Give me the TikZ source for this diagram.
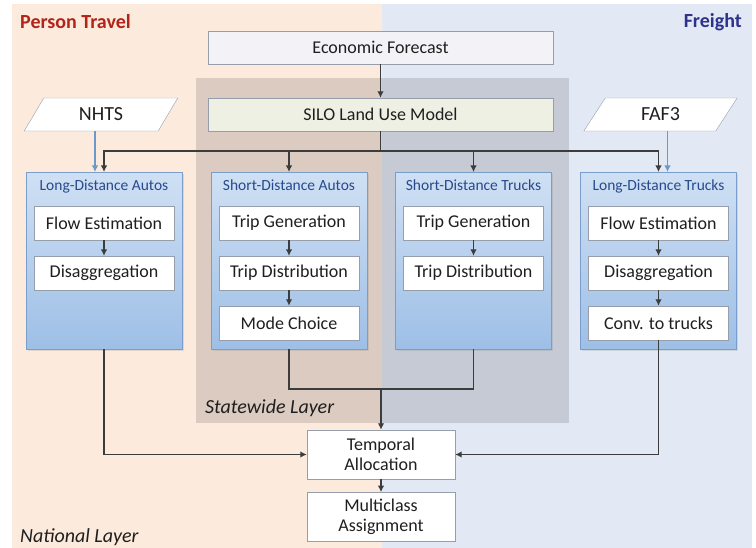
\documentclass[tikz,border=0pt]{standalone}
\usepackage{fontspec}
\setmainfont{Carlito}
\usetikzlibrary{positioning}
\usetikzlibrary{shapes.geometric}
\usetikzlibrary{arrows.meta}
\usetikzlibrary{shadows}

\definecolor{peach}{RGB}{252,234,221}
\definecolor{paleblue}{RGB}{227,233,244}
\definecolor{modtop}{RGB}{207,224,244}
\definecolor{modbot}{RGB}{158,191,230}
\definecolor{modline}{RGB}{122,158,204}
\definecolor{titleblue}{RGB}{40,74,140}
\definecolor{personred}{RGB}{178,36,26}
\definecolor{freightblue}{RGB}{46,50,140}
\definecolor{arrowgray}{RGB}{60,60,60}
\definecolor{inputblue}{RGB}{108,152,204}
\definecolor{boxline}{RGB}{150,158,172}
\definecolor{econfill}{RGB}{243,243,247}
\definecolor{silofill}{RGB}{237,240,226}

\tikzset{
  box/.style={draw=boxline, fill=white, minimum width=140pt, minimum height=34pt,
    inner sep=0pt, text=black!88, font=\fontsize{18}{20}\selectfont},
  module/.style={draw=modline, top color=modtop, bottom color=modbot,
    minimum width=156pt, minimum height=177pt,
    drop shadow={opacity=0.2, shadow xshift=1.5pt, shadow yshift=-1.5pt}},
  modtitle/.style={text=titleblue, inner sep=0pt, font=\fontsize{15.5}{18}\selectfont},
  input/.style={trapezium, trapezium left angle=60, trapezium right angle=120,
    trapezium stretches=true, draw=boxline, fill=white, minimum width=154pt,
    minimum height=33pt, inner sep=0pt, text=black!88, font=\fontsize{20}{24}\selectfont},
  wide/.style={draw=boxline, minimum width=345pt, minimum height=33pt,
    inner sep=0pt, text=black!88, font=\fontsize{18}{20}\selectfont},
  final/.style={box, minimum width=148pt, minimum height=49pt, align=center},
  layer/.style={inner sep=0pt, text=black!88, font=\fontsize{20}{24}\selectfont\itshape},
  line/.style={draw=arrowgray, line width=1.7pt},
  arr/.style={line, -{Latex[length=6.5pt,width=6.5pt]}},
  feed/.style={draw=inputblue, line width=1.3pt, -{Latex[length=6.5pt,width=6.5pt]}},
}

\begin{document}
\begin{tikzpicture}[x=1pt,y=-1pt]
    \useasboundingbox (0,0) rectangle (756,548);
    % person travel / freight halves, statewide layer on top
    \fill[peach] (12,4) rectangle (382,548);
    \fill[paleblue] (382,4) rectangle (752,548);
    \fill[black,fill opacity=0.13] (196,78) rectangle (569,423);

    \node[anchor=west, inner sep=0pt, text=personred, font=\fontsize{20}{24}\selectfont\bfseries] (person) at (20,22) {Person Travel};
    \node[anchor=east, inner sep=0pt, text=freightblue, font=\fontsize{20}{24}\selectfont\bfseries] (freight) at (742,22) {Freight};
    \node[layer, anchor=west] (state) at (205,408) {Statewide Layer};
    \node[layer, anchor=west] (national) at (20,537) {National Layer};

    \node[wide, fill=econfill] (econ) at (380.5,47.5) {Economic Forecast};
    \node[wide, fill=silofill] (silo) at (380.5,114.5) {SILO Land Use Model};
    \node[input] (nhts) at (101,114.5) {NHTS};
    \node[input] (faf) at (660.5,114.5) {FAF3};

    % the four model blocks
    \node[module, anchor=north] (lda) at (104,172) {};
    \node[module, anchor=north] (sda) at (289,172) {};
    \node[module, anchor=north] (sdt) at (473.5,172) {};
    \node[module, anchor=north] (ldt) at (658.5,172) {};
    \node[modtitle, below=8pt of lda.north] (ldat) {Long-Distance Autos};
    \node[modtitle, below=8pt of sda.north] (sdat) {Short-Distance Autos};
    \node[modtitle, below=8pt of sdt.north] (sdtt) {Short-Distance Trucks};
    \node[modtitle, below=8pt of ldt.north] (ldtt) {Long-Distance Trucks};

    \node[box, below=34pt of lda.north] (lda1) {Flow Estimation};
    \node[box, below=15.5pt of lda1] (lda2) {Disaggregation};

    \node[box, below=34pt of sda.north] (sda1) {Trip Generation};
    \node[box, below=15.5pt of sda1] (sda2) {Trip Distribution};
    \node[box, below=15.5pt of sda2] (sda3) {Mode Choice};

    \node[box, below=34pt of sdt.north] (sdt1) {Trip Generation};
    \node[box, below=15.5pt of sdt1] (sdt2) {Trip Distribution};

    \node[box, below=34pt of ldt.north] (ldt1) {Flow Estimation};
    \node[box, below=15.5pt of ldt1] (ldt2) {Disaggregation};
    \node[box, below=15.5pt of ldt2] (ldt3) {Conv. to trucks};

    \node[final] (temporal) at (381,454.5) {Temporal\\Allocation};
    \node[final, below=13pt of temporal] (assign) {Multiclass\\Assignment};

    % steps inside the blocks
    \foreach \a/\b in {lda1/lda2,sda1/sda2,sda2/sda3,sdt1/sdt2,ldt1/ldt2,ldt2/ldt3}
    \draw[arr] (\a) -- (\b);

    % land use feeds every block
    \coordinate (bus) at (380.5,151);
    \draw[arr] (econ) -- (silo);
    \draw[line] (silo) -- (bus);
    \draw[arr] (bus) -| (lda.north);
    \draw[arr] (bus) -| (ldt.north);
    \foreach \m in {sda,sdt}
    \draw[arr] (bus -| \m.north) -- (\m.north);

    % survey and freight data
    \draw[feed] ([xshift=-9pt]lda.north |- nhts.south) -- ([xshift=-9pt]lda.north);
    \draw[feed] ([xshift=9pt]ldt.north |- faf.south) -- ([xshift=9pt]ldt.north);

    % into temporal allocation
    \coordinate (merge) at (381,389);
    \draw[line] (sda.south) |- (merge) -| (sdt.south);
    \draw[arr] (merge) -- (temporal.north);
    \draw[arr] (lda.south) |- (temporal.west);
    \draw[arr] (ldt3.south) |- (temporal.east);
    \draw[arr] (temporal) -- (assign);
\end{tikzpicture}
\end{document}
